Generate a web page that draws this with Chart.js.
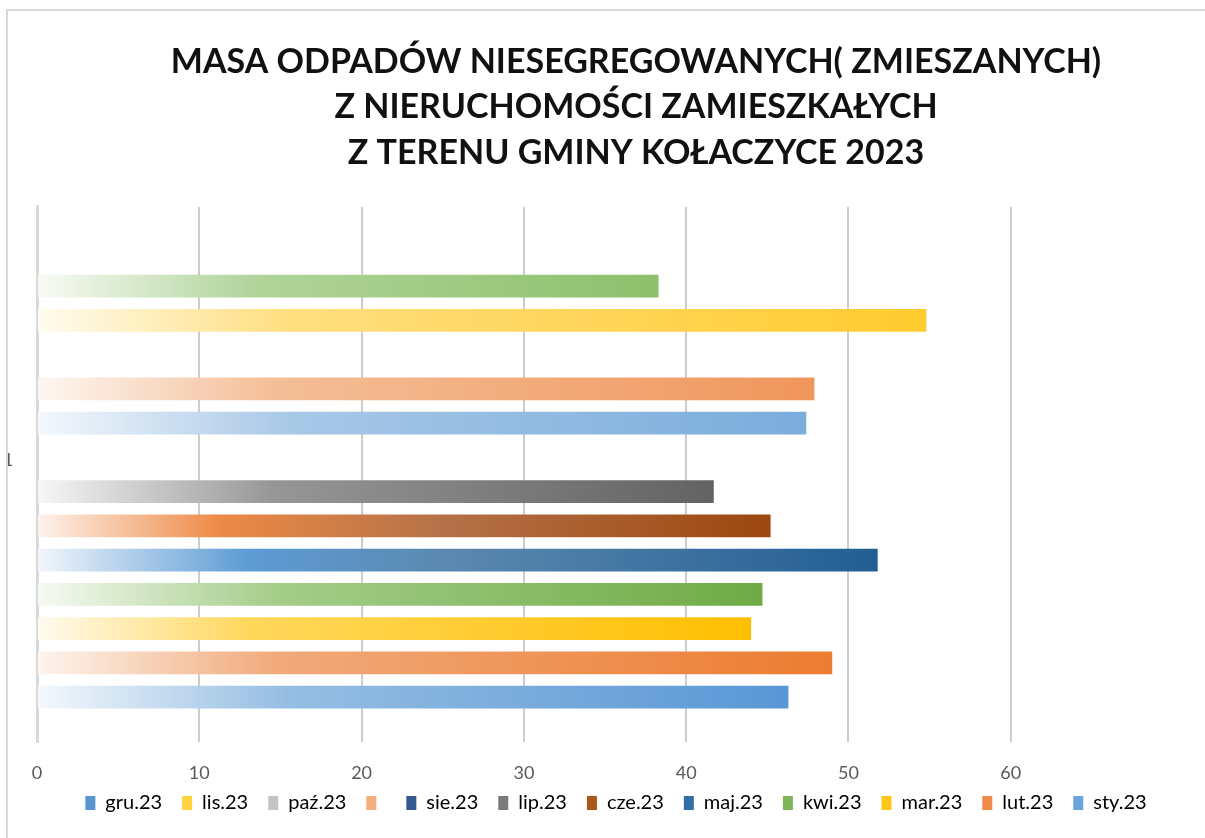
<!DOCTYPE html>
<html>
<head>
<meta charset="utf-8">
<script src="https://cdn.jsdelivr.net/npm/chart.js@4.4.1/dist/chart.umd.min.js"></script>
<style>
  html, body { margin: 0; padding: 0; background: #ffffff; }
  #frame {
    position: absolute; left: 6px; top: 9px;
    width: 1199px; height: 829px;
    border-left: 2px solid #d9d9d9; border-top: 2px solid #d9d9d9;
    overflow: hidden; background: #ffffff;
  }
  #c { position: absolute; left: -4px; top: 0px; }
</style>
</head>
<body>
<div id="frame"><canvas id="c" width="1264" height="827" style="width:1264px;height:827px"></canvas></div>
<script>
// ---- data (top-to-bottom order of bars inside the single category) ----
const categories = ['1'];
const seriesNames = ['', 'gru.23', 'lis.23', 'paź.23', '', 'sie.23', 'wrz.23', 'lip.23', 'cze.23', 'maj.23', 'kwi.23', 'mar.23', 'lut.23', 'sty.23'];
const seriesValues = [null, 38.3, 54.8, null, 47.9, 47.4, null, 41.7, 45.2, 51.8, 44.7, 44.0, 49.0, 46.3];
// gradient stops per bar: [offset, colour]
const seriesGradients = [
  [[0, '#ffffff'], [1, '#ffffff']],
  [[0, '#f8fbf5'], [0.35, '#b0d49a'], [1, '#8dc06b']],
  [[0, '#fffcf0'], [0.28, '#ffdf80'], [1, '#ffcb2e']],
  [[0, '#ffffff'], [1, '#ffffff']],
  [[0, '#fdf7f2'], [0.30, '#f4bf98'], [1, '#f0965c']],
  [[0, '#f4f8fc'], [0.33, '#a8c8e7'], [1, '#7aacdc']],
  [[0, '#ffffff'], [1, '#ffffff']],
  [[0, '#f7f7f7'], [0.35, '#969696'], [1, '#636363']],
  [[0, '#fdf3ec'], [0.25, '#ed8a45'], [0.55, '#b57248'], [1, '#9d470f']],
  [[0, '#f2f6fb'], [0.25, '#5e9cd5'], [0.5, '#5a88ae'], [1, '#225e93']],
  [[0, '#f6faf3'], [0.33, '#a4cd89'], [1, '#6fab45']],
  [[0, '#fffbf0'], [0.30, '#ffd75b'], [1, '#ffbf00']],
  [[0, '#fdf5ef'], [0.30, '#f1aa7b'], [1, '#ec7c30']],
  [[0, '#f4f8fc'], [0.33, '#96bee3'], [1, '#5897d5']]
];
// legend as shown in the reference
const legendNames = ['gru.23', 'lis.23', 'paź.23', '', 'sie.23', 'lip.23', 'cze.23', 'maj.23', 'kwi.23', 'mar.23', 'lut.23', 'sty.23'];
const legendColors = ['#5b95cf', '#ffd23f', '#c4c4c4', '#f4ad7c', '#34598f', '#7a7a7a', '#ad561c', '#336ea6', '#7fb65a', '#ffc619', '#ef8a48', '#6ba4da'];
const xTicks = [0, 10, 20, 30, 40, 50, 60];
const xMax = 75.85; // visible extent of the value axis up to the chart frame
const titleLines = ['MASA ODPADÓW NIESEGREGOWANYCH( ZMIESZANYCH)', 'Z NIERUCHOMOŚCI ZAMIESZKAŁYCH', 'Z TERENU GMINY KOŁACZYCE 2023'];

function barGradient(i) {
  return function (ctx) {
    const chart = ctx.chart;
    const xs = chart.scales && chart.scales.x;
    if (!chart.chartArea || !xs) return seriesGradients[i][seriesGradients[i].length - 1][1];
    const v = ctx.raw == null ? 0 : ctx.raw;
    const x0 = xs.getPixelForValue(0);
    const x1 = Math.max(xs.getPixelForValue(v), x0 + 1);
    const g = chart.ctx.createLinearGradient(x0, 0, x1, 0);
    seriesGradients[i].forEach(s => g.addColorStop(s[0], s[1]));
    return g;
  };
}

const datasets = seriesNames.map((name, i) => ({
  label: name,
  data: [seriesValues[i]],
  backgroundColor: barGradient(i),
  borderWidth: 0,
  categoryPercentage: 0.896,
  barPercentage: 0.663
}));

Chart.defaults.font.family = 'Lato, "Open Sans", sans-serif';

new Chart(document.getElementById('c'), {
  type: 'bar',
  data: { labels: categories, datasets },
  options: {
    indexAxis: 'y',
    responsive: false,
    animation: false,
    devicePixelRatio: 1,
    layout: { padding: { left: 0, right: 0, top: 0, bottom: 15 } },
    scales: {
      x: {
        min: 0, max: xMax,
        afterBuildTicks: (axis) => { axis.ticks = xTicks.map(v => ({ value: v })); },
        afterFit: (scale) => { scale.height = 31; },
        ticks: {
          color: '#595959', font: { size: 18 }, padding: -41.8, mirror: true,
          callback: (v) => String(v)
        },
        grid: { drawTicks: false, color: '#cccccc', lineWidth: 2 },
        border: { display: false }
      },
      y: {
        afterFit: (scale) => { scale.width = 33; },
        grid: { display: false, drawTicks: false },
        border: { display: true, color: '#d9d9d9', width: 3 },
        ticks: { color: '#595959', font: { size: 18 }, padding: 23.5, labelOffset: -14 }
      }
    },
    plugins: {
      title: {
        display: true,
        text: titleLines,
        color: '#111111',
        font: { size: 34, weight: 'bold', lineHeight: 1.338 },
        padding: { top: 28.25, bottom: 31.25 }
      },
      legend: {
        position: 'bottom',
        labels: {
          color: '#595959',
          font: { size: 20 },
          boxWidth: 10,
          boxHeight: 14,
          padding: 20,
          generateLabels: () => legendNames.map((n, i) => ({
            text: n, fillStyle: legendColors[i], strokeStyle: legendColors[i], lineWidth: 0, hidden: false, datasetIndex: i
          })).concat([{ text: '', fillStyle: 'rgba(0,0,0,0)', strokeStyle: 'rgba(0,0,0,0)', lineWidth: 0, hidden: false }])
        }
      },
      tooltip: { enabled: false }
    }
  }
});
</script>
</body>
</html>
